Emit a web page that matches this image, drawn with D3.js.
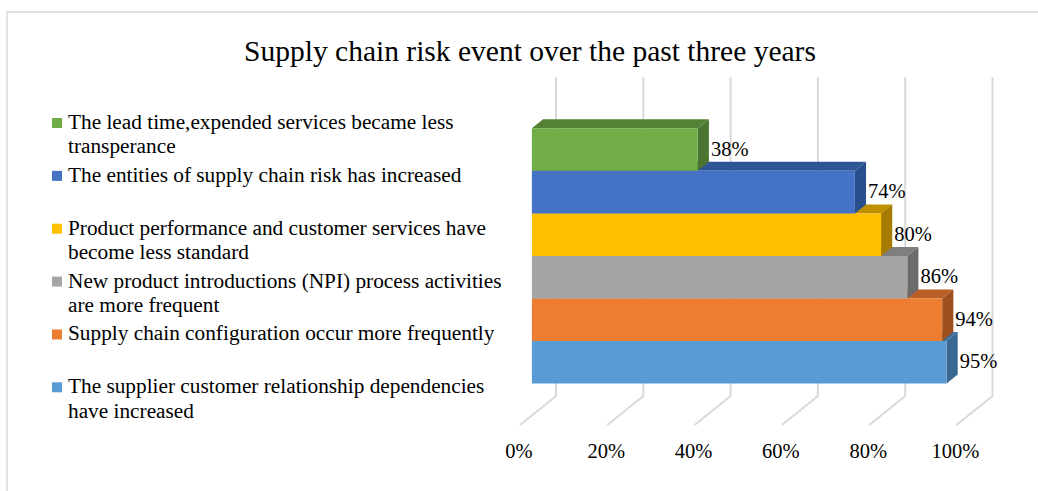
<!DOCTYPE html>
<html>
<head>
<meta charset="utf-8">
<script src="https://cdn.jsdelivr.net/npm/d3@7"></script>
<style>
  html, body { margin: 0; padding: 0; background: #fff; }
  svg { display: block; }
  text { font-family: "Liberation Serif", "Times New Roman", serif; fill: #000; }
</style>
</head>
<body>
<svg id="chart" width="1038" height="491"></svg>
<script>
// Survey categories, listed top to bottom as drawn
const categories = [
  "The lead time,expended services became less transperance",
  "The entities of supply chain risk has increased",
  "Product performance and customer services have become less standard",
  "New product introductions (NPI) process activities are more frequent",
  "Supply chain configuration occur more frequently",
  "The supplier customer relationship dependencies have increased"
];
const values = [0.38, 0.74, 0.80, 0.86, 0.94, 0.95];
const frontColors = ["#70AD47", "#4472C4", "#FFC000", "#A5A5A5", "#ED7D31", "#5B9BD5"];
const topColors   = ["#548235", "#2F5597", "#BF9000", "#7F7F7F", "#BA5F25", "#41719C"];
const sideColors  = ["#4B7530", "#2B4F8E", "#A67C00", "#6B6B6B", "#9E4F1E", "#3A6892"];
const tickValues = [0, 0.2, 0.4, 0.6, 0.8, 1.0];
const title = "Supply chain risk event over the past three years";

const svg = d3.select("#chart");
const fmt = d3.format(".0%");

// Oblique 3D layout: back wall, floor depth offset
const x = d3.scaleLinear().domain([0, 1]).range([556, 992.5]);
const y = d3.scaleBand().domain(categories).range([77, 396]).paddingInner(0).paddingOuter(0.75);
const depthDX = -36, depthDY = 29;   // back wall -> front edge of floor
const dBack = 0.36, dFront = 0.67;   // depth slab occupied by the bars

const P = (v, r, d) => [x(v) + depthDX * d, r + depthDY * d];
const poly = pts => pts.map(p => p.join(",")).join(" ");

// Chart frame
svg.append("rect")
  .attr("x", 7).attr("y", 12).attr("width", 1040).attr("height", 490)
  .attr("fill", "none").attr("stroke", "#D9D9D9").attr("stroke-width", 1.5);

// Gridlines on the back wall and floor
const wallTop = y.range()[0], wallBottom = y.range()[1];
svg.append("g").selectAll("polyline")
  .data(tickValues)
  .join("polyline")
  .attr("points", v => poly([P(v, wallTop, 0), P(v, wallBottom, 0), P(v, wallBottom, 1)]))
  .attr("fill", "none").attr("stroke", "#D9D9D9").attr("stroke-width", 2);

// Bars, drawn bottom row first so upper bars overlap correctly
const rows = categories.map((c, i) => ({ c, i, v: values[i] })).reverse();
const bars = svg.append("g").selectAll("g").data(rows).join("g");

bars.append("polygon") // top face
  .attr("points", d => {
    const r0 = y(d.c);
    return poly([P(0, r0, dFront), P(d.v, r0, dFront), P(d.v, r0, dBack), P(0, r0, dBack)]);
  })
  .attr("fill", d => topColors[d.i]);

bars.append("polygon") // side face
  .attr("points", d => {
    const r0 = y(d.c), r1 = r0 + y.bandwidth();
    return poly([P(d.v, r0, dFront), P(d.v, r0, dBack), P(d.v, r1, dBack), P(d.v, r1, dFront)]);
  })
  .attr("fill", d => sideColors[d.i]);

bars.append("polygon") // front face
  .attr("points", d => {
    const r0 = y(d.c), r1 = r0 + y.bandwidth();
    return poly([P(0, r0, dFront), P(d.v, r0, dFront), P(d.v, r1, dFront), P(0, r1, dFront)]);
  })
  .attr("fill", d => frontColors[d.i]);

// Value labels
svg.append("g").selectAll("text")
  .data(rows)
  .join("text")
  .attr("x", d => P(d.v, 0, dBack)[0] + 2)
  .attr("y", d => y(d.c) + y.bandwidth() / 2 + depthDY * dFront + 6)
  .attr("font-size", 20.5)
  .text(d => fmt(d.v));

// Axis tick labels along the front edge of the floor
svg.append("g").selectAll("text")
  .data(tickValues)
  .join("text")
  .attr("x", v => P(v, 0, 1)[0] - 1)
  .attr("y", 458)
  .attr("text-anchor", "middle")
  .attr("font-size", 20.5)
  .text(v => fmt(v));

// Title
svg.append("text")
  .attr("x", 530).attr("y", 61)
  .attr("text-anchor", "middle")
  .attr("font-size", 29.5)
  .text(title);

// Legend with wrapped labels
const legend = svg.append("g");
const legendStep = 52.86, lineGap = 24.3, maxWidth = 440;
categories.forEach((c, i) => {
  const base = 129 + i * legendStep;
  legend.append("rect")
    .attr("x", 52).attr("y", base - 11).attr("width", 10).attr("height", 10)
    .attr("fill", frontColors[i]);
  const t = legend.append("text").attr("font-size", 21.3);
  const words = c.split(" ");
  let line = [], lineNo = 0;
  let ts = t.append("tspan").attr("x", 68).attr("y", base);
  words.forEach(w => {
    line.push(w);
    ts.text(line.join(" "));
    if (ts.node().getComputedTextLength() > maxWidth && line.length > 1) {
      line.pop();
      ts.text(line.join(" "));
      line = [w];
      lineNo++;
      ts = t.append("tspan").attr("x", 68).attr("y", base + lineNo * lineGap).text(w);
    }
  });
});
</script>
</body>
</html>
